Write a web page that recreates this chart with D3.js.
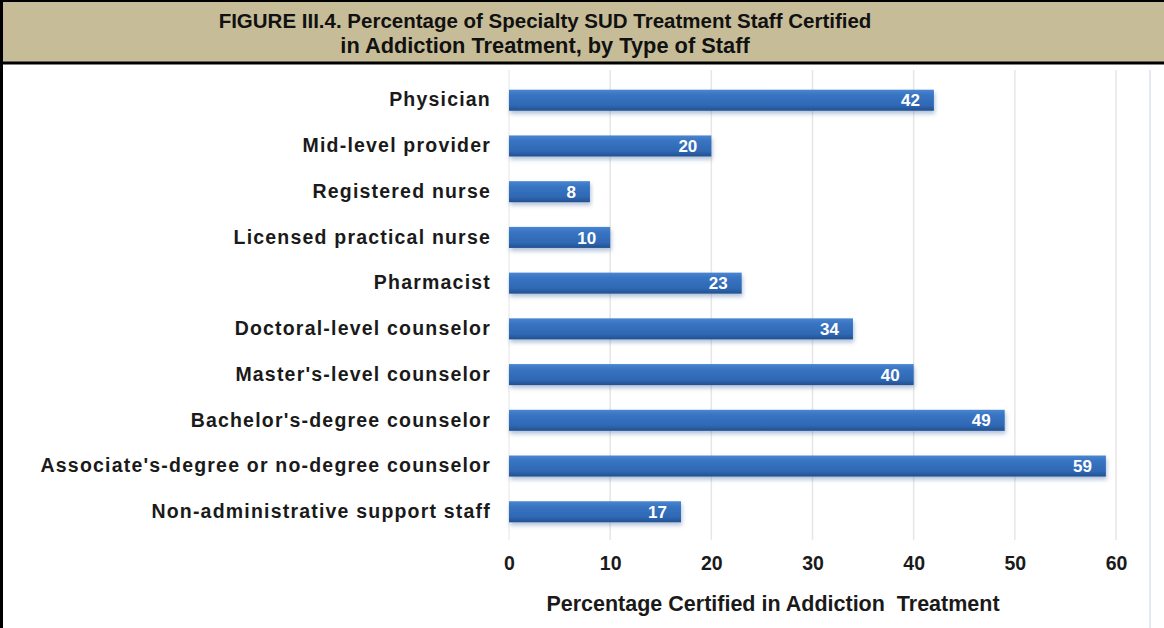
<!DOCTYPE html>
<html>
<head>
<meta charset="utf-8">
<script src="https://cdn.jsdelivr.net/npm/d3@7"></script>
<style>
  body { margin: 0; background: #fff; }
  svg { display: block; font-family: Arial, "Liberation Sans", sans-serif; }
</style>
</head>
<body>
<div id="chart"></div>
<script>
// Staff types and percentage certified
const staffTypes = [
  "Physician",
  "Mid-level provider",
  "Registered nurse",
  "Licensed practical nurse",
  "Pharmacist",
  "Doctoral-level counselor",
  "Master's-level counselor",
  "Bachelor's-degree counselor",
  "Associate's-degree or no-degree counselor",
  "Non-administrative support staff"
];
const pctCertified = [42, 20, 8, 10, 23, 34, 40, 49, 59, 17];
const xTicks = [0, 10, 20, 30, 40, 50, 60];

const titleLines = [
  "FIGURE III.4. Percentage of Specialty SUD Treatment Staff Certified",
  "in Addiction Treatment, by Type of Staff"
];
const xTitle = "Percentage Certified in Addiction  Treatment";

let width = 1164, height = 628;
let margin = { top: 76, bottom: 92, left: 509, right: 48 };

let svg = d3.select('#chart')
  .append('svg')
  .attr('width', width)
  .attr('height', height);

// Title band
svg.append('rect')
  .attr('x', 0).attr('y', 0)
  .attr('width', width).attr('height', 63)
  .attr('fill', '#c6bd98');
svg.append('line')
  .attr('x1', 0).attr('x2', width)
  .attr('y1', 63).attr('y2', 63)
  .attr('stroke', '#000').attr('stroke-width', 3);
svg.append('line')
  .attr('x1', 0).attr('x2', width)
  .attr('y1', 1).attr('y2', 1)
  .attr('stroke', '#000').attr('stroke-width', 2);
svg.append('line')
  .attr('x1', 1.5).attr('x2', 1.5)
  .attr('y1', 0).attr('y2', height)
  .attr('stroke', '#000').attr('stroke-width', 3);

titleLines.forEach((t, i) => {
  svg.append('text')
    .text(t)
    .attr('x', 545)
    .attr('y', 28 + i * 25)
    .attr('text-anchor', 'middle')
    .attr('font-size', i === 0 ? '20.5px' : '21.8px')
    .attr('font-weight', 'bold')
    .attr('fill', '#111');
});

// Scales
let xScale = d3.scaleLinear()
  .domain([0, 60])
  .range([margin.left, 1116]);

let yScale = d3.scaleBand()
  .domain(staffTypes)
  .range([margin.top, height - margin.bottom])
  .paddingInner(0.54)
  .paddingOuter(0.3);

// Bar gradient and shadow
const defs = svg.append('defs');
const grad = defs.append('linearGradient')
  .attr('id', 'barGrad')
  .attr('x1', 0).attr('x2', 0).attr('y1', 0).attr('y2', 1);
grad.append('stop').attr('offset', '0%').attr('stop-color', '#4a86d0');
grad.append('stop').attr('offset', '25%').attr('stop-color', '#3874c2');
grad.append('stop').attr('offset', '75%').attr('stop-color', '#2f68b4');
grad.append('stop').attr('offset', '100%').attr('stop-color', '#22508f');

const shadow = defs.append('filter')
  .attr('id', 'shadow')
  .attr('x', '-5%').attr('y', '-30%')
  .attr('width', '110%').attr('height', '180%');
shadow.append('feDropShadow')
  .attr('dx', 1).attr('dy', 3)
  .attr('stdDeviation', 2)
  .attr('flood-color', '#5577aa')
  .attr('flood-opacity', 0.45);

// Plot area border on the right
svg.append('line')
  .attr('x1', 1150).attr('x2', 1150)
  .attr('y1', 70).attr('y2', height)
  .attr('stroke', '#e4e9f2').attr('stroke-width', 2);

// Gridlines
svg.append('g')
  .selectAll('line')
  .data(xTicks.slice(1))
  .enter()
  .append('line')
  .attr('x1', d => xScale(d)).attr('x2', d => xScale(d))
  .attr('y1', 70).attr('y2', 540)
  .attr('stroke', '#e6e6e6')
  .attr('stroke-width', 1.5);

// Axis line at 0
svg.append('line')
  .attr('x1', xScale(0)).attr('x2', xScale(0))
  .attr('y1', 70).attr('y2', 540)
  .attr('stroke', '#eeeeee')
  .attr('stroke-width', 1.5);

// X axis
let xAxis = svg.append('g')
  .attr('transform', `translate(0,${height - margin.bottom})`)
  .call(d3.axisBottom(xScale).tickValues(xTicks).tickSize(0).tickPadding(20));
xAxis.select('.domain').remove();
xAxis.selectAll('text')
  .attr('font-size', '19.5px')
  .attr('font-weight', 'bold')
  .attr('font-family', 'Arial, "Liberation Sans", sans-serif')
  .attr('fill', '#1a1a1a');

// X axis title
svg.append('text')
  .text(xTitle)
  .attr('x', 773)
  .attr('y', 611)
  .attr('text-anchor', 'middle')
  .attr('font-size', '21.5px')
  .attr('font-weight', 'bold')
  .style('white-space', 'pre')
  .attr('fill', '#1a1a1a');

// Category labels
let yAxis = svg.append('g')
  .attr('transform', `translate(${margin.left},0)`)
  .call(d3.axisLeft(yScale).tickSize(0).tickPadding(18));
yAxis.select('.domain').remove();
yAxis.selectAll('text')
  .attr('font-size', '19.5px')
  .attr('font-weight', 'bold')
  .attr('letter-spacing', '1.2px')
  .attr('font-family', 'Arial, "Liberation Sans", sans-serif')
  .attr('fill', '#1a1a1a');

// Bars
const rows = staffTypes.map((s, i) => ({ staff: s, value: pctCertified[i] }));

svg.selectAll('.bar')
  .data(rows)
  .enter()
  .append('rect')
  .attr('class', 'bar')
  .attr('x', xScale(0))
  .attr('y', d => yScale(d.staff))
  .attr('width', d => xScale(d.value) - xScale(0))
  .attr('height', yScale.bandwidth())
  .attr('fill', 'url(#barGrad)')
  .attr('filter', 'url(#shadow)');

// Value labels
svg.selectAll('.val')
  .data(rows)
  .enter()
  .append('text')
  .attr('class', 'val')
  .text(d => d.value)
  .attr('x', d => xScale(d.value) - 14)
  .attr('y', d => yScale(d.staff) + yScale.bandwidth() / 2)
  .attr('dy', '0.36em')
  .attr('text-anchor', 'end')
  .attr('font-size', '17px')
  .attr('font-weight', 'bold')
  .attr('fill', '#fff');
</script>
</body>
</html>
